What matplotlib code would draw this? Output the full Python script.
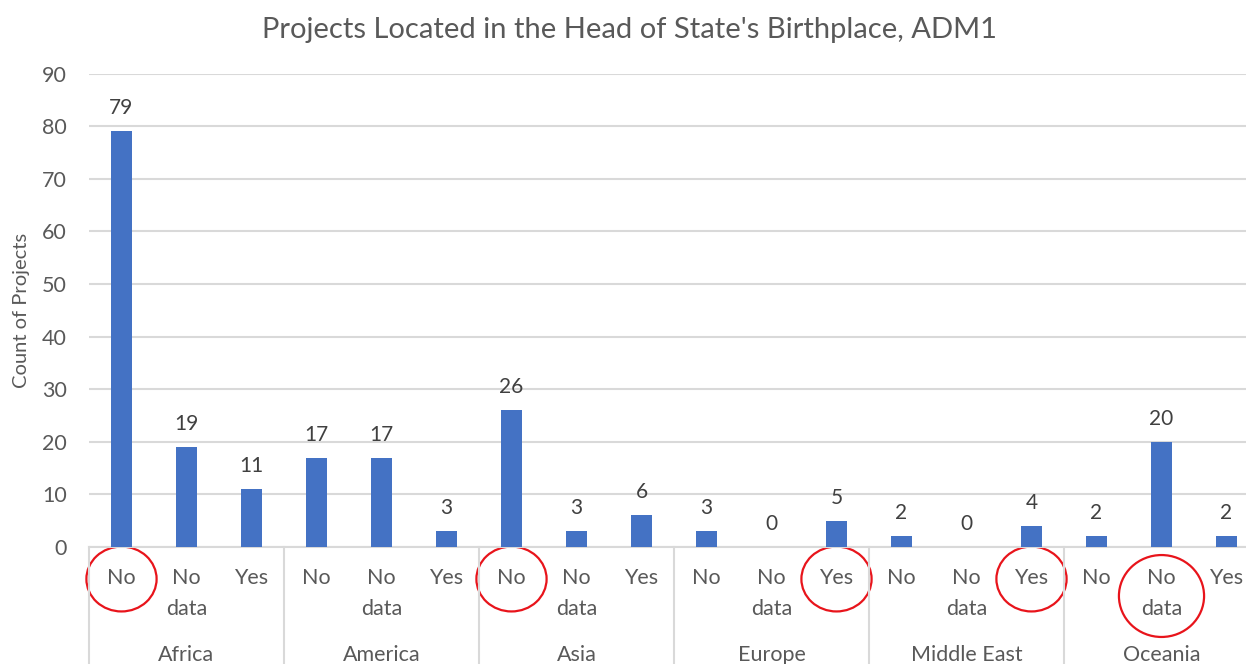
import numpy as np
import matplotlib
matplotlib.use('Agg')
import matplotlib.pyplot as plt
from matplotlib.patches import Ellipse

regions = ['Africa', 'America', 'Asia', 'Europe', 'Middle East', 'Oceania']
answers = ['No', 'No\ndata', 'Yes']
counts = [79, 19, 11,
          17, 17, 3,
          26, 3, 6,
          3, 0, 5,
          2, 0, 4,
          2, 20, 2]
# labels circled in red on the axis (region, answer)
circled = [('Africa', 'No'), ('Asia', 'No'), ('Europe', 'Yes'),
           ('Middle East', 'Yes'), ('Oceania', 'No\ndata')]

plt.rcParams['font.family'] = ['Lato', 'DejaVu Sans']
txt = '#595959'
bar_col = '#4472C4'
grid_col = '#D9D9D9'

fig = plt.figure(figsize=(12.46, 6.64), dpi=100, facecolor='w')
ax = fig.add_axes([89/1246, 117/664, 1170/1246, 473.5/664])

x = np.arange(len(counts))
ax.bar(x, counts, width=0.31, color=bar_col, zorder=3)
for xi, c in zip(x, counts):
    ax.annotate(str(c), (xi, c), xytext=(0, 13), textcoords='offset pixels',
                ha='center', va='bottom', fontsize=15, color='#404040')

ax.set_xlim(-0.5, len(counts) - 0.5)
ax.set_ylim(0, 90)
ax.set_yticks(range(0, 91, 10))
ax.tick_params(axis='y', length=0, labelsize=15.5, labelcolor=txt, pad=16)
ax.set_xticks([])
ax.grid(axis='y', color=grid_col, linewidth=1.5, zorder=0)
for s in ['top', 'right', 'left']:
    ax.spines[s].set_visible(False)
ax.spines['bottom'].set_color(grid_col)
ax.spines['bottom'].set_linewidth(1.5)
ax.set_ylabel('Count of Projects', fontsize=14.5, color=txt)
ax.yaxis.set_label_coords(-0.05, 0.5)

fig.suptitle("Projects Located in the Head of State's Birthplace, ADM1",
             x=0.505, y=0.975, fontsize=21, color=txt)

trans = ax.get_xaxis_transform()
# sub-category and group labels
for gi, reg in enumerate(regions):
    for ai, ans in enumerate(answers):
        xi = gi * len(answers) + ai
        ax.annotate(ans, (xi, 0), xycoords=trans, xytext=(0, -21),
                    textcoords='offset pixels', ha='center', va='top',
                    fontsize=15.5, color=txt, linespacing=1.7)
    ax.annotate(reg, (gi * len(answers) + 1, 0), xycoords=trans,
                xytext=(0, -114), textcoords='offset pixels', ha='center',
                va='baseline', fontsize=15.5, color=txt)

for b in np.arange(0, len(counts) + 1, len(answers)) - 0.5:
    ax.plot([b, b], [0, -0.3], transform=trans, color=grid_col,
            linewidth=1.5, clip_on=False)

# red circles
for reg, ans in circled:
    xi = regions.index(reg) * len(answers) + answers.index(ans)
    if '\n' in ans:
        e = Ellipse((xi, -0.1035), 1.31, 0.173, transform=trans)
    else:
        e = Ellipse((xi, -0.0676), 1.08, 0.137, transform=trans)
    e.set_facecolor('none')
    e.set_edgecolor('#E8141B')
    e.set_linewidth(1.6)
    e.set_clip_on(False)
    ax.add_patch(e)

fig.savefig('out.png', dpi=100)
